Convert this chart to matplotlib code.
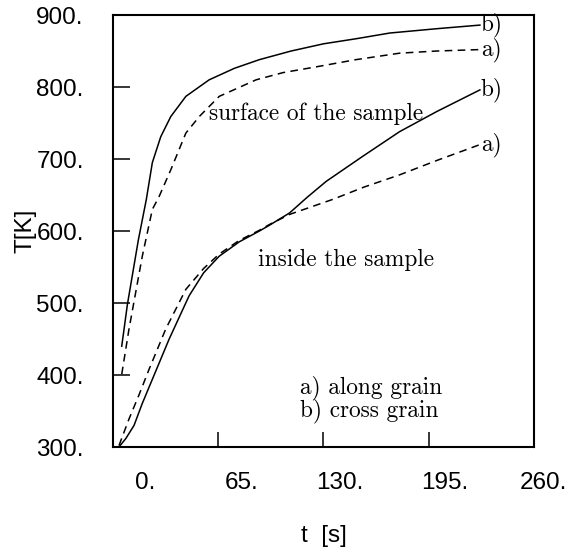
import numpy as np
import matplotlib.pyplot as plt
from matplotlib.transforms import ScaledTranslation

# heating curves, surface and interior of the sample
# a) along grain (dashed), b) cross grain (solid)
t_surf_b = [5.4, 8.9, 15.7, 20.6, 24.3, 29.5, 35.7, 45, 59.4, 75, 90.4, 110, 130, 150, 171, 200, 226.6]
T_surf_b = [440, 498, 588, 644, 695, 731, 759, 787, 810, 826, 838, 850, 860, 867, 875, 881, 886]

t_surf_a = [5.4, 9.9, 18.1, 24.3, 28.5, 35.7, 45, 53.3, 65.6, 88.4, 105, 125.5, 150, 177, 200, 226.6]
T_surf_a = [401, 464, 565, 630, 648, 685, 736, 759, 787, 810, 820, 828, 838, 847, 850, 852]

t_in_b = [3.7, 8, 13, 18, 24.3, 34.7, 47, 56, 65.6, 78, 90.4, 96.6, 109, 120, 131.7, 154.4, 177, 200, 226.6]
T_in_b = [300, 312, 330, 360, 394, 450, 510, 542, 565, 585, 600, 608, 625, 647, 669, 704, 738, 766, 796]

t_in_a = [3.7, 9.9, 16, 22.3, 32.6, 45, 56, 65.6, 78, 90.4, 96.6, 109, 135.8, 155, 177, 200, 226.6]
T_in_a = [302, 339, 372, 408, 464, 519, 548, 568, 587, 601, 609, 623, 644, 661, 678, 698, 720]

xticks = [0, 65, 130, 195, 260]
xtick_labels = ['0.', '65.', '130.', '195.', '260.']
xlabel_shift = [32, 23, 16, 16, 9]   # px, labels sit right of their ticks
yticks = [300, 400, 500, 600, 700, 800, 900]
ytick_labels = ['300.', '400.', '500.', '600.', '700.', '800.', '900.']

sans = 'Liberation Sans'
serif = 'cmr10'
fs_serif = 16.8

fig = plt.figure(figsize=(5.75, 5.52), dpi=100)
ax = fig.add_axes([0.1965, 0.1902, 0.7322, 0.7826])

lw = 1.1
dash = (0, (5, 3.5))
ax.plot(t_surf_b, T_surf_b, color='black', lw=lw)
ax.plot(t_surf_a, T_surf_a, color='black', lw=lw, linestyle=dash)
ax.plot(t_in_b, T_in_b, color='black', lw=lw)
ax.plot(t_in_a, T_in_a, color='black', lw=lw, linestyle=dash)

# end-of-curve tags
for tt, TT, tag in [(t_surf_b, T_surf_b, 'b)'), (t_surf_a, T_surf_a, 'a)'),
                    (t_in_b, T_in_b, 'b)'), (t_in_a, T_in_a, 'a)')]:
    ax.text(tt[-1] + 0.6, TT[-1], tag, family=serif, fontsize=fs_serif,
            ha='left', va='center')

ax.text(59.2, 754, 'surface of the sample', family=serif, fontsize=fs_serif, va='baseline')
ax.text(89.3, 551, 'inside the sample', family=serif, fontsize=fs_serif, va='baseline')
ax.text(115.2, 374, 'a) along grain', family=serif, fontsize=fs_serif, va='baseline')
ax.text(115.2, 343, 'b) cross grain', family=serif, fontsize=fs_serif, va='baseline')

ax.set_xlim(0, 260)
ax.set_ylim(300, 900)

ax.set_xticks(xticks, xtick_labels)
ax.set_yticks(yticks, ytick_labels)
ax.tick_params(axis='x', direction='in', length=11, width=1.1, pad=18, labelsize=17.5)
ax.tick_params(axis='y', direction='in', length=12, width=1.1, pad=21, labelsize=17.5)
for lab in ax.get_xticklabels() + ax.get_yticklabels():
    lab.set_family(sans)
for lab, dx in zip(ax.get_xticklabels(), xlabel_shift):
    lab.set_transform(lab.get_transform() + ScaledTranslation(dx / 100, 0, fig.dpi_scale_trans))

for sp in ax.spines.values():
    sp.set_linewidth(1.5)

ax.set_xlabel('t  [s]', family=sans, fontsize=17.5, labelpad=22)
ax.set_ylabel('T[K]', family=sans, fontsize=17.5, labelpad=0)

fig.savefig('out.png', dpi=100)
